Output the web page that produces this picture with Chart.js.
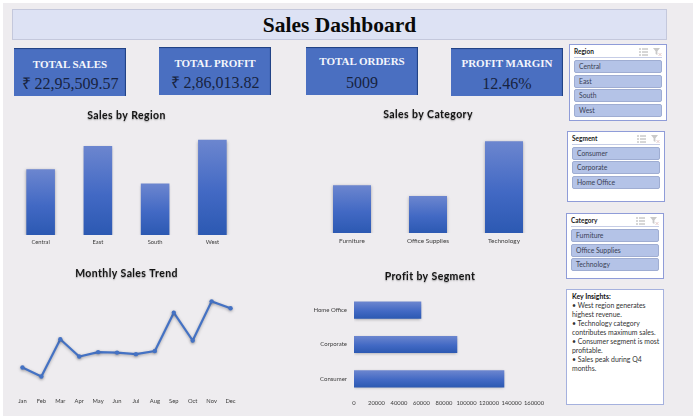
<!DOCTYPE html>
<html>
<head>
<meta charset="utf-8">
<title>Sales Dashboard</title>
<script src="https://cdn.jsdelivr.net/npm/chart.js"></script>
<style>
  html, body { margin: 0; padding: 0; background: #fff; overflow: hidden; }
  #page { position: relative; width: 700px; height: 420px; filter: blur(0.35px); }
  #page > * { position: absolute; box-sizing: border-box; }
  #sheet { left: 3px; top: 3px; width: 690px; height: 413px; background: #eeecef; }
  #banner {
    left: 12px; top: 9px; width: 655px; height: 31px; background: #dde2f4; border: 1px solid #c4c8dc;
    font: bold 21.5px "Liberation Serif", serif; color: #0a0a0a; text-align: center; line-height: 30px;
  }
  .kpi {
    width: 112px; height: 48px; background: #4a6fc1; text-align: center;
    box-shadow: inset -1px 1px 1px #1f3f80;
    font-family: "Liberation Serif", serif;
  }
  .kpi b { position: absolute; left: 0; right: 0; font-size: 11px; color: #f4f6fc; line-height: 12px; white-space: nowrap; }
  .kpi span { position: absolute; left: 0; right: 0; top: 27px; font-size: 16px; color: #17233f; line-height: 18px; white-space: nowrap; }
  .slicer { width: 98px; background: #fff; border: 1px solid #8f9cd8; font-family: Lato, sans-serif; }
  .slicer .head { position: absolute; left: 4px; top: 2px; font-size: 6.5px; font-weight: 700; color: #222; line-height: 10px; }
  .slicer .rule { position: absolute; left: 4px; right: 4px; top: 12px; height: 1px; background: #c6cde6; }
  .slicer svg { position: absolute; top: 3px; }
  .slicer .item {
    position: absolute; left: 4px; right: 4px; height: 13px; box-sizing: border-box; padding-left: 4px;
    background: #b4c3e7; border: 1px solid #9fadd2; border-radius: 2px; font-size: 6.8px; line-height: 11px; color: #3a3f55;
  }
  #insights {
    left: 566px; top: 289px; width: 98px; height: 116px; background: #fff; border: 1px solid #a5b1de;
    padding: 2px 2px 2px 5px; font: 6.9px/9px Lato, sans-serif; color: #333;
  }
  #insights b { color: #111; }
</style>
</head>
<body>
<div id="page">
  <div id="sheet"></div>
  <div id="banner">Sales Dashboard</div>
  <canvas id="regionChart" width="229" height="145" style="left:12px;top:105px"></canvas>
  <canvas id="categoryChart" width="228" height="143" style="left:314px;top:105px"></canvas>
  <canvas id="monthChart" width="235" height="144" style="left:9px;top:263px"></canvas>
  <canvas id="segmentChart" width="260" height="145" style="left:300px;top:266px"></canvas>
  <div id="insights"></div>
</div>
<script>
// ============================================================================
// Data
// ============================================================================

const regions = ['Central', 'East', 'South', 'West'];
const regionSales = [501000, 679000, 392000, 725000];

const categories = ['Furniture', 'Office Supplies', 'Technology'];
const categorySales = [742000, 719000, 836000];

const months = ['Jan', 'Feb', 'Mar', 'Apr', 'May', 'Jun', 'Jul', 'Aug', 'Sep', 'Oct', 'Nov', 'Dec'];
const monthlySales = [95000, 60000, 205000, 138000, 155000, 153000, 147000, 159000, 308000, 200000, 352000, 325000];

const segments = ['Consumer', 'Corporate', 'Home Office'];
const segmentProfit = [133600, 91800, 59800];

const kpiTitles = ['TOTAL SALES', 'TOTAL PROFIT', 'TOTAL ORDERS', 'PROFIT MARGIN'];
const kpiValues = ['₹ 22,95,509.57', '₹ 2,86,013.82', '5009', '12.46%'];

const insightLines = [
  '• West region generates highest revenue.',
  '• Technology category contributes maximum sales.',
  '• Consumer segment is most profitable.',
  '• Sales peak during Q4 months.',
];

// ============================================================================
// Page furniture (KPI cards, slicers, notes)
// ============================================================================

const page = document.getElementById('page');

const kpiBoxes = [
  { left: 14, top: 48, titleTop: 10 },
  { left: 159, top: 47, titleTop: 10 },
  { left: 306, top: 47, titleTop: 8 },
  { left: 451, top: 48, titleTop: 9 },
];

kpiBoxes.forEach((box, i) => {
  const card = document.createElement('div');
  card.className = 'kpi';
  card.style.left = box.left + 'px';
  card.style.top = box.top + 'px';
  card.innerHTML = `<b style="top:${box.titleTop}px">${kpiTitles[i]}</b><span>${kpiValues[i]}</span>`;
  page.appendChild(card);
});

const listIcon = '<path d="M0 1h2M3 1h6M0 4h2M3 4h6M0 7h2M3 7h6" stroke="#9a9a9a" stroke-width="0.8"/>';
const filterIcon = '<path d="M0 0h7L4.4 3.2V7L2.6 6V3.2z" fill="#c9c9c9"/><path d="M5.5 5l3 3M8.5 5l-3 3" stroke="#d8b8b8" stroke-width="0.7"/>';

function addSlicer(title, items, left, top, height, firstItem, step) {
  const box = document.createElement('div');
  box.className = 'slicer';
  box.style.cssText = `left:${left}px;top:${top}px;height:${height}px`;
  let html = `<div class="head">${title}</div><div class="rule"></div>`;
  html += `<svg width="9" height="8" style="left:69px">${listIcon}</svg>`;
  html += `<svg width="9" height="8" style="left:83px">${filterIcon}</svg>`;
  items.forEach((item, i) => {
    html += `<div class="item" style="top:${firstItem + i * step}px">${item}</div>`;
  });
  box.innerHTML = html;
  page.appendChild(box);
}

addSlicer('Region', regions, 569, 44, 77, 15, 14.5);
addSlicer('Segment', segments, 567, 131, 71, 15, 14.4);
addSlicer('Category', categories, 566, 213, 66, 15, 14.5);

document.getElementById('insights').innerHTML =
  '<b>Key Insights:</b><br>' + insightLines.join('<br>');

// ============================================================================
// Chart helpers
// ============================================================================

const labelColor = '#3c3c3c';

function labelFont(size) {
  return { family: 'Lato, sans-serif', size };
}

// Soft drop shadow behind bars and the trend line
const shadowPlugin = {
  id: 'softShadow',
  beforeDatasetsDraw(chart) {
    const ctx = chart.ctx;
    ctx.save();
    ctx.shadowColor = 'rgba(70,70,80,0.45)';
    ctx.shadowBlur = 3;
    ctx.shadowOffsetY = 1;
  },
  afterDatasetsDraw(chart) {
    chart.ctx.restore();
  },
};

// The title plugin has no letter spacing option, so wrap its draw call.
// Also keeps the title centred on the canvas when layout padding is one sided.
const titleStylePlugin = {
  id: 'titleStyle',
  afterLayout(chart) {
    const block = chart.titleBlock;
    if (block.styled) return;
    const draw = block.draw;
    block.styled = true;
    block.draw = function () {
      const ctx = chart.ctx;
      ctx.save();
      ctx.translate(chart.width / 2 - (block.left + block.right) / 2, 0);
      ctx.letterSpacing = '0.4px';
      ctx.shadowColor = 'rgba(0,0,0,0.35)';
      ctx.shadowBlur = 1.5;
      ctx.shadowOffsetY = 0.5;
      draw.call(block);
      ctx.restore();
    };
  },
};

// Every bar gets its own top to bottom gradient, horizontal ones too
function barFill(context) {
  const { chart, dataIndex, dataset } = context;
  if (!chart.chartArea) return '#4a70c4';
  const horizontal = chart.options.indexAxis === 'y';
  const top = horizontal
    ? chart.scales.y.getPixelForValue(dataIndex) - 8.5
    : chart.scales.y.getPixelForValue(dataset.data[dataIndex]);
  const bottom = horizontal ? top + 17 : chart.chartArea.bottom;
  const gradient = chart.ctx.createLinearGradient(0, top, 0, bottom);
  gradient.addColorStop(0, '#6c86cf');
  gradient.addColorStop(0.55, '#4269c4');
  gradient.addColorStop(1, '#2c59b2');
  return gradient;
}

function setHeight(height) {
  return (scale) => {
    scale.height = height;
    scale.paddingLeft = 0;
    scale.paddingRight = 0;
  };
}

function baseOptions(title, titleTop, titleBottom) {
  return {
    responsive: false,
    animation: false,
    events: [],
    layout: { padding: 0 },
    plugins: {
      legend: { display: false },
      tooltip: { enabled: false },
      title: {
        display: true,
        text: title,
        color: '#141414',
        font: { family: 'Lato, sans-serif', size: 10.5, weight: 'bold', lineHeight: 1.2 },
        padding: { top: titleTop, bottom: titleBottom },
      },
    },
  };
}

function categoryAxis(tickPadding, fontSize) {
  return {
    grid: { display: false, drawTicks: false },
    border: { display: false },
    ticks: { color: labelColor, font: labelFont(fontSize), padding: tickPadding, maxRotation: 0, autoSkip: false },
    afterFit: setHeight(15),
  };
}

function createColumnChart(canvasId, labels, values, title, titleTop, titleBottom, min, max, fontSize) {
  return new Chart(document.getElementById(canvasId), {
    type: 'bar',
    data: { labels, datasets: [{ data: values, backgroundColor: barFill, categoryPercentage: 1, barPercentage: 0.5 }] },
    options: {
      ...baseOptions(title, titleTop, titleBottom),
      scales: {
        x: categoryAxis(4, fontSize),
        y: { display: false, min, max },
      },
    },
    plugins: [shadowPlugin, titleStylePlugin],
  });
}

// ============================================================================
// Charts
// ============================================================================

createColumnChart('regionChart', regions, regionSales, 'Sales by Region', 4.7, 7.7, 0, 800000, 5.8);
createColumnChart('categoryChart', categories, categorySales, 'Sales by Category', 3.7, 8.7, 640000, 860000, 6.4);

new Chart(document.getElementById('monthChart'), {
  type: 'line',
  data: {
    labels: months,
    datasets: [{
      data: monthlySales,
      borderColor: '#4472c4',
      backgroundColor: '#4472c4',
      borderWidth: 2.2,
      pointRadius: 2.2,
      pointBorderWidth: 0,
      tension: 0,
    }],
  },
  options: {
    ...baseOptions('Monthly Sales Trend', 4.7, 8.7),
    scales: {
      x: { ...categoryAxis(6, 5.8), offset: true },
      y: { display: false, min: 0, max: 400000 },
    },
  },
  plugins: [shadowPlugin, titleStylePlugin],
});

const segmentOptions = baseOptions('Profit by Segment', 4.7, 9.7);
segmentOptions.layout = { padding: { right: 26 } };

new Chart(document.getElementById('segmentChart'), {
  type: 'bar',
  data: { labels: segments, datasets: [{ data: segmentProfit, backgroundColor: barFill, categoryPercentage: 1, barPercentage: 0.5 }] },
  options: {
    ...segmentOptions,
    indexAxis: 'y',
    scales: {
      x: {
        min: 0,
        max: 160000,
        grid: { display: false, drawTicks: false },
        border: { display: false },
        ticks: { stepSize: 20000, color: labelColor, font: labelFont(5.8), padding: 4, maxRotation: 0, autoSkip: false, callback: (value) => String(value) },
        afterFit: setHeight(15),
      },
      y: {
        reverse: true,
        grid: { display: false, drawTicks: false },
        border: { display: false },
        ticks: { color: labelColor, font: labelFont(6), padding: 7 },
        afterFit: (scale) => { scale.width = 54; },
      },
    },
  },
  plugins: [shadowPlugin, titleStylePlugin],
});
</script>
</body>
</html>
